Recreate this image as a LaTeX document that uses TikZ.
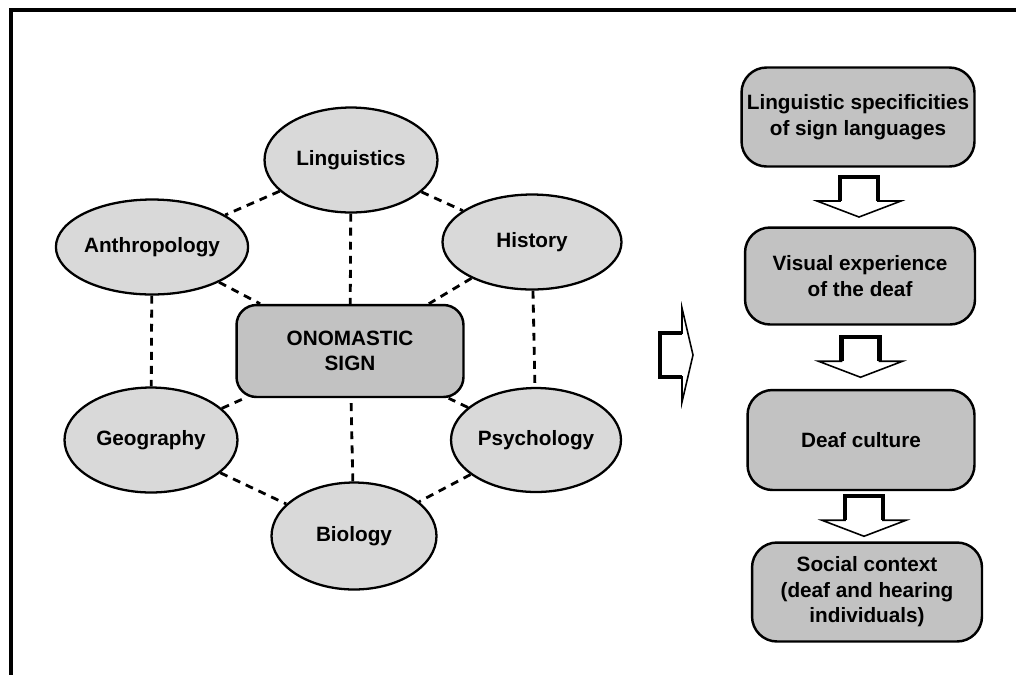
\documentclass[tikz,border=0pt]{standalone}
\usepackage{fontspec}
\setmainfont{Liberation Sans}
\usetikzlibrary{shapes.geometric,calc}
\definecolor{discgray}{RGB}{217,217,217}
\definecolor{signgray}{RGB}{194,194,194}

\begin{document}
\begin{tikzpicture}[x=0.02cm,y=-0.02cm,
    every node/.style={font=\fontsize{11.8}{14.5}\selectfont\bfseries},
    field/.style={ellipse, draw, line width=1.3pt, fill=discgray, inner sep=0pt},
    sign/.style={rectangle, rounded corners=0.4cm, draw, line width=1.4pt,
      fill=signgray, align=center, inner sep=0pt},
    stage/.style={sign, rounded corners=0.5cm},
    link/.style={line width=1.6pt, dash pattern=on 4.5pt off 3.5pt},
    downarrow/.pic={
      \filldraw[fill=white, line width=0.9pt]
        (-19,-20) -- (19,-20) -- (19,4) -- (42,4) -- (0,20)
        -- (-42,4) -- (-19,4) -- cycle;
      \draw[line width=2.4pt] (-19,4) -- (-19,-20) -- (19,-20) -- (19,4);
    },
    rightarrow/.pic={
      \filldraw[fill=white, line width=0.9pt]
        (-17,-22) -- (5,-22) -- (5,-47) -- (16,0) -- (5,47)
        -- (5,22) -- (-17,22) -- cycle;
      \draw[line width=2.6pt] (5,-22) -- (-17,-22) -- (-17,22) -- (5,22);
    }
  ]
  \useasboundingbox (0,0) rectangle (1016,674);
  \clip (0,0) rectangle (1016,674);

  % frame
  \draw[line width=2pt] (11,720) -- (11,10) -- (1060,10);

  % disciplines round the sign
  \node[field, minimum width=3.46cm, minimum height=2.1cm] (ling) at (351,160) {Linguistics};
  \node[field, minimum width=3.5cm, minimum height=1.9cm] (anth) at (152,247) {Anthropology};
  \node[field, minimum width=3.58cm, minimum height=1.9cm] (hist) at (532,242) {History};
  \node[field, minimum width=3.46cm, minimum height=2.1cm] (geog) at (151,440) {Geography};
  \node[field, minimum width=3.4cm, minimum height=2.08cm] (psyc) at (536,440) {Psychology};
  \node[field, minimum width=3.3cm, minimum height=2.14cm] (biol) at (354,536) {Biology};
  \node[sign, minimum width=4.54cm, minimum height=1.84cm] (onom) at (350,351)
    {ONOMASTIC\\SIGN};

  \draw[link] (ling) -- (onom);
  \draw[link] (biol) -- (onom);
  \draw[link] (anth) -- (onom);
  \draw[link] (hist) -- (onom);
  \draw[link] (geog) -- (onom);
  \draw[link] (psyc) -- (onom);
  \draw[link] (ling) -- (anth);
  \draw[link] (ling) -- (hist);
  \draw[link] (anth) -- (geog);
  \draw[link] (hist) -- (psyc);
  \draw[link] (geog) -- (biol);
  \draw[link] (psyc) -- (biol);

  \pic at (677,355) {rightarrow};

  % stages on the right
  \node[stage, minimum width=4.66cm, minimum height=1.98cm] (stA) at (858,117)
    {Linguistic specificities\\of sign languages};
  \node[stage, minimum width=4.6cm, minimum height=1.94cm] (stB) at (860,276)
    {Visual experience\\of the deaf};
  \node[stage, minimum width=4.54cm, minimum height=2cm] (stC) at (861,440)
    {Deaf culture};
  \node[stage, minimum width=4.6cm, minimum height=1.98cm] (stD) at (867,592)
    {Social context\\(deaf and hearing\\individuals)};

  \pic at ($(stA.south)!0.5!(stB.north)$) {downarrow};
  \pic at ($(stB.south)!0.5!(stC.north)$) {downarrow};
  \pic at ($(stC.south)!0.5!(stD.north)$) {downarrow};
\end{tikzpicture}
\end{document}
